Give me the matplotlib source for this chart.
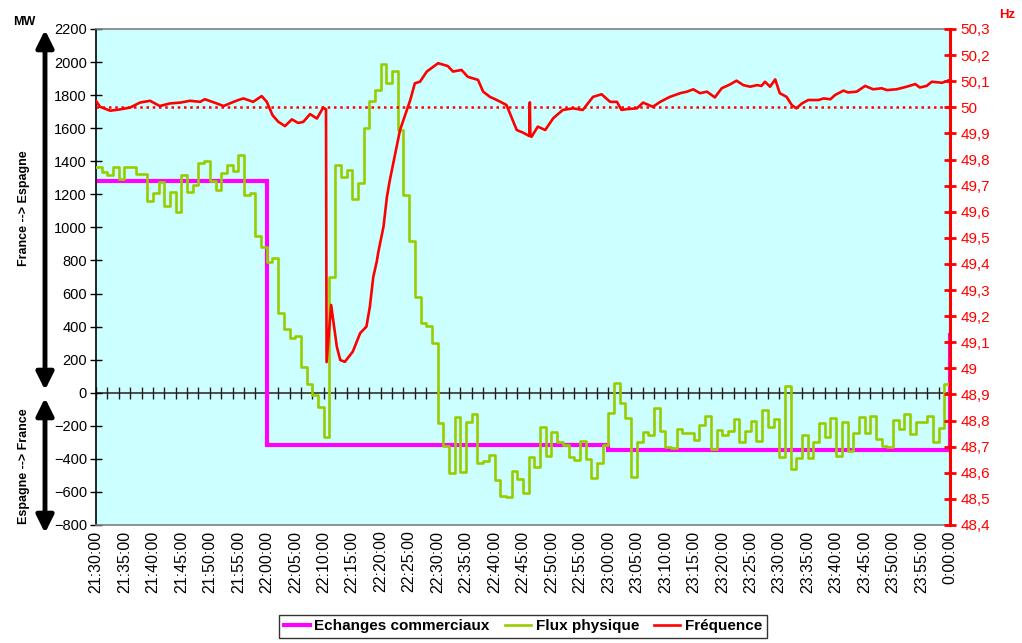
import numpy as np
import matplotlib
matplotlib.use("Agg")
import matplotlib.pyplot as plt
from matplotlib.ticker import FuncFormatter
from matplotlib.lines import Line2D

plt.rcParams['font.family'] = ['Liberation Sans', 'DejaVu Sans']

# ---- data (time in minutes after 21:30:00) ----
tick_minutes = list(range(0, 151, 5))
tick_labels = ["21:30:00", "21:35:00", "21:40:00", "21:45:00", "21:50:00", "21:55:00",
               "22:00:00", "22:05:00", "22:10:00", "22:15:00", "22:20:00", "22:25:00",
               "22:30:00", "22:35:00", "22:40:00", "22:45:00", "22:50:00", "22:55:00",
               "23:00:00", "23:05:00", "23:10:00", "23:15:00", "23:20:00", "23:25:00",
               "23:30:00", "23:35:00", "23:40:00", "23:45:00", "23:50:00", "23:55:00",
               "0:00:00"]

# Commercial exchanges (MW), step changes
exch_t = [0, 30, 90, 150]
exch_mw = [1280, -316, -345, 350]

# Physical flow (MW), one value per minute
flux_mw = [1364, 1337, 1317, 1367, 1293, 1364, 1367, 1323, 1323, 1160,
           1206, 1273, 1129, 1216, 1091, 1317, 1216, 1256, 1388, 1403,
           1282, 1226, 1327, 1377, 1341, 1438, 1196, 1210, 946, 883,
           790, 815, 484, 385, 329, 345, 154, 53, -14, -85,
           -270, 702, 1376, 1307, 1347, 1170, 1267, 1599, 1764, 1831,
           1988, 1871, 1946, 1589, 1196, 920, 581, 424, 405, 302,
           -181, -322, -484, -145, -478, -175, -129, -423, -411, -377,
           -528, -625, -629, -472, -524, -605, -387, -448, -209, -383,
           -237, -300, -316, -391, -407, -292, -401, -518, -423, -316,
           -125, 60, -64, -155, -508, -296, -236, -256, -94, -230,
           -330, -336, -220, -242, -246, -286, -195, -141, -342, -226,
           -256, -232, -161, -296, -232, -169, -290, -105, -209, -161,
           -387, 40, -463, -397, -256, -397, -296, -181, -266, -155,
           -383, -175, -353, -242, -145, -242, -141, -282, -322, -326,
           -165, -222, -129, -250, -175, -175, -141, -296, -215, 53]

# Grid frequency (Hz)
freq_t = [0, 0.7, 2.5, 4.2, 6.0, 7.7, 9.5, 11.2, 13.0, 14.8, 16.5, 18.3, 19.1,
          21.2, 22.4, 23.5, 25.0, 25.9, 27.6, 29.1, 30.0, 31.0, 32.0, 33.2,
          34.4, 35.5, 36.4, 37.6, 38.8, 39.9, 40.4, 40.5, 41.3, 42.3, 42.9,
          43.7, 45.1, 46.4, 47.5, 48.1, 48.7, 49.3, 49.6, 50.5, 51.1, 51.6,
          53.4, 55.2, 56.0, 56.9, 58.1, 60.1, 61.8, 62.7, 64.2, 65.3, 67.1,
          68.0, 69.2, 70.4, 72.1, 73.9, 75.0, 76.1, 76.2, 76.3, 76.5, 77.6,
          78.9, 80.3, 82.0, 83.8, 85.5, 87.3, 88.8, 90.3, 91.5, 92.3, 93.2,
          95.0, 96.1, 97.8, 99.1, 100.8, 102.6, 103.8, 104.9, 106.1, 107.3,
          108.7, 109.9, 111.4, 112.5, 113.7, 114.9, 116.1, 116.9, 117.5,
          118.4, 119.3, 120.1, 121.3, 122.2, 123.0, 124.0, 125.1, 126.9,
          127.8, 129.0, 129.8, 131.3, 132.1, 133.6, 135.1, 136.5, 138.0,
          138.9, 140.6, 142.4, 143.9, 144.7, 145.9, 146.8, 148.6, 150.0]
freq_hz = [50.025, 50.002, 49.987, 49.992, 49.999, 50.018, 50.025, 50.005, 50.015,
           50.018, 50.025, 50.021, 50.031, 50.015, 50.005, 50.015, 50.028, 50.034,
           50.021, 50.043, 50.021, 49.970, 49.945, 49.928, 49.954, 49.940, 49.944,
           49.974, 49.957, 49.999, 49.992, 49.024, 49.243, 49.083, 49.032, 49.025,
           49.064, 49.135, 49.160, 49.236, 49.350, 49.408, 49.447, 49.543, 49.657,
           49.720, 49.913, 50.028, 50.092, 50.098, 50.137, 50.169, 50.158, 50.137,
           50.143, 50.117, 50.105, 50.060, 50.040, 50.028, 50.009, 49.913, 49.903,
           49.890, 50.019, 49.890, 49.887, 49.926, 49.913, 49.958, 49.990, 49.996,
           49.990, 50.040, 50.050, 50.021, 50.021, 49.990, 49.993, 49.996, 50.018,
           50.002, 50.021, 50.040, 50.054, 50.060, 50.069, 50.054, 50.060, 50.038,
           50.073, 50.088, 50.102, 50.085, 50.079, 50.085, 50.082, 50.098, 50.079,
           50.107, 50.054, 50.040, 50.009, 49.996, 50.015, 50.028, 50.028, 50.034,
           50.031, 50.047, 50.064, 50.057, 50.060, 50.082, 50.069, 50.073, 50.066,
           50.069, 50.079, 50.089, 50.076, 50.082, 50.098, 50.094, 50.105]

nominal_hz = 50.0

# ---- figure ----
W, H = 1022, 643
fig = plt.figure(figsize=(W / 100, H / 100), dpi=100)
fig.patch.set_facecolor('white')
ax = fig.add_axes([96 / W, 1 - 525 / H, (950 - 96) / W, (525 - 29) / H])
ax.set_facecolor('#CCFFFF')
ax2 = ax.twinx()

# MW series
flux_t = np.arange(len(flux_mw) + 1)
flux_vals = flux_mw + [flux_mw[-1]]
ax.axhline(0, color='#404040', lw=1.3, zorder=1)
ax.plot(np.arange(0, 151, 2), np.zeros(76), ls='none', marker='|', ms=8,
        mew=1.0, color='#202020', zorder=1)
ax.plot(exch_t, exch_mw, drawstyle='steps-post', color='#FF00FF', lw=3.0,
        zorder=2, solid_joinstyle='miter')
ax.plot(flux_t, flux_vals, drawstyle='steps-post', color='#99CC00', lw=1.9,
        zorder=3)

# Frequency series
ax2.axhline(nominal_hz, color='#FF0000', lw=1.8, ls=(0, (1, 1.5)),
            dash_capstyle='butt')
ax2.plot(freq_t, freq_hz, color='#FF0000', lw=1.9)

# axes limits and ticks
ax.set_xlim(0, 150)
ax.set_ylim(-800, 2200)
ax2.set_ylim(48.4, 50.3)

ax.set_xticks(tick_minutes)
ax.set_xticklabels(tick_labels, rotation=90, fontsize=11.5)
ax.tick_params(axis='x', length=0, pad=4)
ax.set_yticks(range(-800, 2201, 200))
ax.tick_params(axis='y', direction='inout', length=9, width=1, colors='black',
               labelsize=10.5, pad=2)

ax2.set_yticks(np.round(np.arange(48.4, 50.31, 0.1), 1))
ax2.yaxis.set_major_formatter(FuncFormatter(
    lambda v, p: (f"{v:.1f}".rstrip('0').rstrip('.')).replace('.', ',')))
ax2.tick_params(axis='y', direction='inout', length=9, width=2, colors='#FF0000',
                labelcolor='#FF0000', labelsize=11, pad=3)

for s in ('top', 'bottom'):
    ax.spines[s].set_color('#808080')
    ax.spines[s].set_linewidth(1.2)
    ax2.spines[s].set_visible(False)
ax.spines['left'].set_color('black')
ax.spines['left'].set_linewidth(1.2)
ax.spines['right'].set_visible(False)
ax2.spines['left'].set_visible(False)
ax2.spines['right'].set_color('#FF0000')
ax2.spines['right'].set_linewidth(2.2)

# axis captions
fig.text(24 / W, 1 - 22 / H, "MW", fontsize=9, fontweight='bold',
         ha='center', va='center')
fig.text(1007 / W, 1 - 15 / H, "Hz", fontsize=9.5, fontweight='bold',
         color='#FF0000', ha='center', va='center')

# direction arrows
arrow_kw = dict(arrowstyle='<|-|>', lw=3.5, color='black', mutation_scale=26,
                shrinkA=0, shrinkB=0)
ax.annotate('', xy=(45, H - 30), xytext=(45, H - 390), xycoords='figure pixels',
            textcoords='figure pixels', arrowprops=arrow_kw)
ax.annotate('', xy=(45, H - 398), xytext=(45, H - 533), xycoords='figure pixels',
            textcoords='figure pixels', arrowprops=arrow_kw)
fig.text(24 / W, 1 - 208 / H, "France --> Espagne", rotation=90, fontsize=9,
         fontweight='bold', ha='center', va='center')
fig.text(24 / W, 1 - 466 / H, "Espagne --> France", rotation=90, fontsize=9,
         fontweight='bold', ha='center', va='center')

# legend
handles = [Line2D([], [], color='#FF00FF', lw=3.0),
           Line2D([], [], color='#99CC00', lw=1.9),
           Line2D([], [], color='#FF0000', lw=1.9)]
labels = ["Echanges commerciaux", "Flux physique", "Fréquence"]
leg = fig.legend(handles, labels, loc='lower center', ncol=3,
                 bbox_to_anchor=(523 / W, -0.004), frameon=True, fancybox=False,
                 edgecolor='black', prop={'weight': 'bold', 'size': 11},
                 handlelength=1.7, handletextpad=0.3, columnspacing=1.0,
                 borderpad=0.3)
leg.get_frame().set_linewidth(1.0)

fig.savefig("out.png", dpi=100)
